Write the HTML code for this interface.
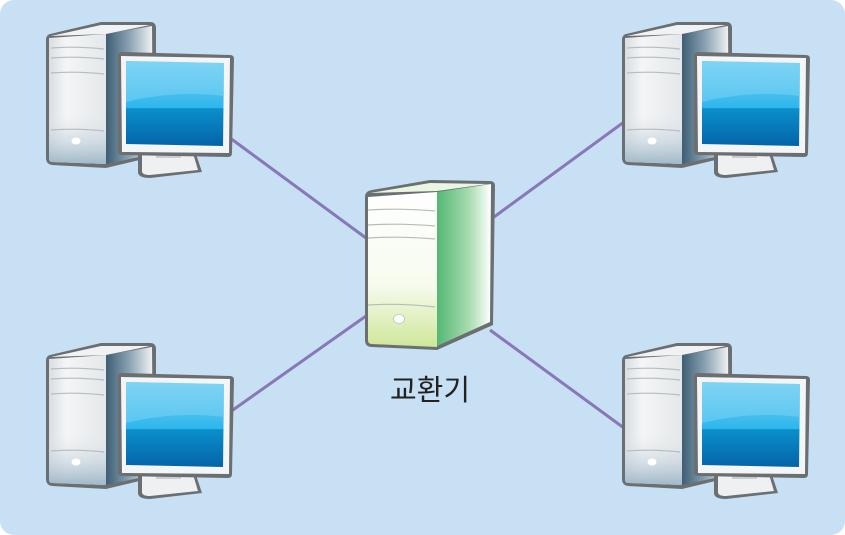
<!DOCTYPE html>
<html><head><meta charset="utf-8"><style>
html,body{margin:0;padding:0;background:#fff;}
svg{display:block;}
</style></head><body>
<svg width="845" height="535" viewBox="0 0 845 535" xmlns="http://www.w3.org/2000/svg">
<defs>
<linearGradient id="tf" x1="0" y1="0" x2="1" y2="0"><stop offset="0" stop-color="#d9dee2"/><stop offset="0.3" stop-color="#f4f5f6"/><stop offset="1" stop-color="#e4e8ea"/></linearGradient>
<linearGradient id="tfb" x1="0" y1="0" x2="0" y2="1"><stop offset="0" stop-color="#e8ebee" stop-opacity="0"/><stop offset="1" stop-color="#9fb8c8"/></linearGradient>
<linearGradient id="ts" x1="0" y1="0" x2="1" y2="0"><stop offset="0" stop-color="#3e5e74"/><stop offset="0.5" stop-color="#8aa3b3"/><stop offset="1" stop-color="#f2f4f5"/></linearGradient>
<linearGradient id="sc" x1="0" y1="0" x2="0" y2="1"><stop offset="0" stop-color="#7fd3f5"/><stop offset="0.55" stop-color="#2db6ea"/><stop offset="0.56" stop-color="#0a8fcc"/><stop offset="1" stop-color="#0464a8"/></linearGradient>
<linearGradient id="sf" x1="0" y1="0" x2="0" y2="1"><stop offset="0" stop-color="#ffffff"/><stop offset="0.6" stop-color="#f6fbee"/><stop offset="1" stop-color="#cfe79a"/></linearGradient>
<linearGradient id="ss" x1="0" y1="0" x2="1" y2="0"><stop offset="0" stop-color="#54b874"/><stop offset="0.6" stop-color="#a9dcb0"/><stop offset="1" stop-color="#ffffff"/></linearGradient>
<g id="pc">
  <path d="M4,12 L55,0 L104,0 Q110,0 110,6 L110,134 L60,146 L6,143 Q0,142 0,136 L0,18 Q0,13 4,12Z" fill="#6b6f72"/>
  <path d="M3,16 L60,12 L60,142 L6,140 Q3,140 3,136Z" fill="url(#tf)"/>
  <path d="M3,90 L60,92 L60,142 L6,140 Q3,140 3,136Z" fill="url(#tfb)"/>
  <path d="M60,12 L106,4 L107,132 L60,142Z" fill="url(#ts)"/>
  <path d="M5,14 L55,3 L104,3 L60,12Z" fill="#f0f2f4"/>
  <path d="M5,26 Q30,24 58,27 M5,36 Q30,34 58,37 M5,51 Q30,49 58,52 M5,108 Q30,106 58,109" stroke="#b5bcc2" stroke-width="1.2" fill="none"/>
  <ellipse cx="30" cy="119" rx="4.5" ry="3.5" fill="#fff"/>
  <path d="M92,126 L148,126 L156,150 L104,156 Q92,156 92,150Z" fill="#6b6f72"/>
  <path d="M96,128 L146,128 L152,148 L104,153 Q96,153 96,149Z" fill="#eef0f1"/>
  <path d="M110,124 L135,124 L135,136 L110,136Z" fill="#c9ced2"/>
  <path d="M72,34 Q72,30 76,30 L184,33 Q188,33 188,37 L186,131 Q186,135 182,135 L76,133 Q72,133 72,129Z" fill="#6b6f72"/>
  <path d="M75,34 L184,36 L183,131 L76,130Z" fill="#f3f5f6"/>
  <path d="M80,39 L178,41 L177,124 L80,122Z" fill="url(#sc)"/>
  <path d="M80,80 Q128,68 178,74 L178,41 L80,39Z" fill="#7fd3f5" opacity="0.5"/>
</g>
</defs>
<rect x="0" y="0" width="845" height="535" rx="14" fill="#c7e0f4"/>
<g stroke="#8878b8" stroke-width="3" fill="none">
<line x1="226" y1="135" x2="366" y2="238"/>
<line x1="230" y1="412" x2="366" y2="316"/>
<line x1="494" y1="217" x2="624" y2="122"/>
<line x1="490" y1="330" x2="624" y2="428"/>
</g>
<use href="#pc" x="46" y="22"/>
<use href="#pc" x="622" y="22"/>
<use href="#pc" x="46" y="343"/>
<use href="#pc" x="622" y="343"/>
<path d="M372,190 L430,180 L490,181 Q495,181 495,186 L493,325 L437,350 L372,347 Q365,347 365,340 L365,197 Q365,191 372,190Z" fill="#6b6f72"/>
<path d="M368,197 L437,192 L437,347 L372,344 Q368,344 368,340Z" fill="url(#sf)"/>
<path d="M437,192 L491,184 L490,322 L437,346Z" fill="url(#ss)"/>
<path d="M370,193 L430,183 L488,184 L437,191Z" fill="#eaf5e4"/>
<path d="M368,210 Q400,208 435,211 M368,225 Q400,223 435,226 M368,238 Q400,236 435,239 M368,305 Q400,303 435,307" stroke="#b8bdb8" stroke-width="1.2" fill="none"/>
<ellipse cx="399" cy="319" rx="5.5" ry="4.5" fill="#fff" stroke="#c0c6b8" stroke-width="0.8"/>
<text x="430" y="400" font-family="'Liberation Sans','Noto Sans CJK KR',sans-serif" font-size="29" fill="#222" text-anchor="middle">교환기</text>
</svg>
</body></html>
